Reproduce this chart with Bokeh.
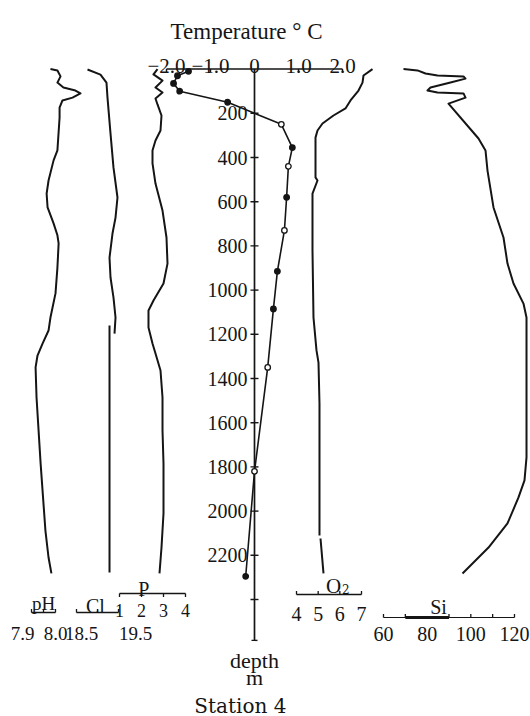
from bokeh.plotting import figure
from bokeh.models import Range1d
from bokeh.embed import file_html
from bokeh.resources import INLINE
from bokeh.core.properties import value

# ---------------- data ----------------
depth_tick_values = [200, 400, 600, 800, 1000, 1200, 1400, 1600, 1800, 2000, 2200]
depth_tick_labels = ["200", "400", "600", "800", "1000", "1200", "1400", "1600", "1800", "2000", "2200"]
depth_unlabeled_ticks = [2400]
depth_axis_end = 2585

temp_ticks = [-2.0, -1.0, 0.0, 1.0, 2.0]
temp_tick_labels = ["\u22122.0", "\u22121.0", "0", "1.0", "2.0"]

temp_depth = [10, 30, 65, 100, 150, 250, 355, 440, 580, 730, 915, 1085, 1350, 1820, 2295]
temp_value = [-1.50, -1.75, -1.84, -1.70, -0.61, 0.61, 0.86, 0.77, 0.73, 0.68, 0.52, 0.43, 0.30, 0.00, -0.20]
temp_open = [False, False, False, False, False, True, False, True, False, True, False, False, True, True, False]

ph_depth = [0, 6, 33, 61, 83, 97, 110, 129, 142, 174, 219, 368, 413, 504, 563, 626, 698, 752, 789,
            898, 1015, 1124, 1183, 1242, 1296, 1350, 1486, 1785, 2088, 2210, 2282]
ph_value = [7.979, 8.008, 8.021, 8.008, 8.033, 8.083, 8.104, 8.071, 8.029, 8.017, 8.017, 8.008, 7.992,
            7.971, 7.963, 7.967, 7.992, 8.008, 8.013, 8.008, 8.000, 7.979, 7.971, 7.946, 7.925, 7.917,
            7.921, 7.938, 7.958, 7.971, 7.983]

cl_depth = [2, 25, 61, 129, 292, 446, 581, 672, 744, 853, 943, 1034, 1124, 1197]
cl_value = [18.762, 19.071, 19.214, 19.238, 19.310, 19.381, 19.476, 19.429, 19.357, 19.286, 19.310,
            19.381, 19.429, 19.405]
cl_deep_depth = [1160, 2278]
cl_deep_value = [19.286, 19.286]

p_depth = [0, 24, 52, 83, 106, 133, 160, 210, 278, 323, 368, 427, 518, 640, 762, 880, 970, 1047, 1092,
           1169, 1242, 1287, 1364, 1486, 1635, 1785, 2011, 2165, 2282]
p_value = [2.727, 2.545, 2.955, 2.636, 2.955, 2.636, 2.727, 2.909, 2.864, 2.636, 2.500, 2.500, 2.636,
           2.955, 3.136, 3.182, 3.000, 2.545, 2.318, 2.318, 2.500, 2.636, 2.864, 2.955, 2.955, 3.000,
           3.000, 2.909, 2.818]

o2_depth = [0, 29, 61, 97, 142, 178, 210, 246, 278, 310, 490, 504, 563, 821, 1124, 1273, 1328, 1513, 2110]
o2_value = [7.507, 7.092, 7.046, 6.861, 6.492, 6.261, 5.707, 5.200, 4.969, 4.877, 4.877, 4.969, 4.738,
            4.738, 4.784, 4.923, 5.015, 5.061, 5.061]
o2_deep_depth = [2124, 2282]
o2_deep_value = [5.108, 5.246]

si_depth = [0, 6, 20, 29, 33, 43, 61, 83, 97, 106, 110, 129, 156, 314, 368, 459, 626, 762, 880, 970,
            1061, 1124, 1273, 1757, 1861, 1938, 2056, 2165, 2282]
si_value = [69.16, 75.57, 79.24, 84.74, 96.65, 97.57, 90.69, 81.53, 80.16, 84.74, 96.65, 97.57, 89.78,
            103.52, 106.73, 107.64, 110.39, 114.97, 116.80, 119.55, 124.13, 125.51, 125.51, 125.51,
            124.59, 121.84, 116.80, 108.10, 96.19]

ph_scale_ticks = [7.9, 7.95, 8.0]
ph_scale_labels = ["7.9", "8.0"]
ph_scale_label_values = [7.9, 8.0]
cl_scale_ticks = [18.5, 19.0, 19.5]
cl_scale_labels = ["18.5", "19.5"]
cl_scale_label_values = [18.5, 19.5]
p_scale_ticks = [1, 2, 3, 4]
p_scale_labels = ["1", "2", "3", "4"]
o2_scale_ticks = [4, 5, 6, 7]
o2_scale_labels = ["4", "5", "6", "7"]
si_scale_ticks = [60, 70, 90, 100, 110, 120]
si_scale_bold = [70, 90]
si_scale_label_values = [60, 80, 100, 120]
si_scale_labels = ["60", "80", "100", "120"]

# ---------------- geometry ----------------
W, H, M = 530, 716, 0
Y0, PPM = 68.6, 0.221          # image y of depth 0, pixels per metre


def dep(y_img):
    return (y_img - Y0) / PPM


def mlen(px):
    return px / PPM


def xrange_for(v0, px0, ppu):
    return Range1d(v0 + (M - px0) / ppu, v0 + (M + W - px0) / ppu)


p = figure(width=W, height=H, output_backend="svg", toolbar_location=None,
           x_range=xrange_for(0.0, 254, 44.0),
           y_range=Range1d(dep(M + H), dep(M)),
           x_axis_location=None, y_axis_location=None,
           min_border=0, outline_line_color=None, background_fill_color="white")
p.grid.visible = False
p.extra_x_ranges = {
    "ph": xrange_for(7.9, 31, 240.0),
    "cl": xrange_for(18.5, 76, 42.0),
    "p": xrange_for(1.0, 119, 22.0),
    "o2": xrange_for(4.0, 296, 21.67),
    "si": xrange_for(60.0, 383, 2.183),
}

INK = "#151515"
SERIF = value("Liberation Serif")

# ---------------- depth axis ----------------
p.segment(x0=[0], y0=[0], x1=[0], y1=[depth_axis_end], line_color=INK, line_width=1.7)
p.scatter(x=[0] * (len(depth_tick_values) + len(depth_unlabeled_ticks)),
          y=depth_tick_values + depth_unlabeled_ticks, marker="dash", size=8,
          line_color=INK, line_width=1.4)
p.scatter(x=[0], y=[depth_axis_end], marker="dash", size=6, line_color=INK, line_width=1.4)
p.text(x=[0] * len(depth_tick_values), y=depth_tick_values, text=depth_tick_labels,
       text_font=SERIF, text_font_size="20px", text_align="right", text_baseline="middle",
       x_offset=-7, text_color=INK)
p.text(x=[0], y=[dep(660)], text=["depth"], text_font=SERIF, text_font_size="22px",
       text_align="center", text_baseline="alphabetic", text_color=INK)
p.text(x=[0], y=[dep(677)], text=["m"], text_font=SERIF, text_font_size="22px",
       text_align="center", text_baseline="alphabetic", text_color=INK)
p.text(x=[-0.32], y=[dep(705)], text=["Station 4"], text_font=value("DejaVu Serif"),
       text_font_size="20px", text_align="center", text_baseline="alphabetic", text_color=INK)

# ---------------- temperature axis (top) ----------------
p.segment(x0=[temp_ticks[0]], y0=[0], x1=[temp_ticks[-1]], y1=[0], line_color=INK, line_width=1.5)
p.segment(x0=temp_ticks, y0=[0] * len(temp_ticks), x1=temp_ticks, y1=[mlen(3.5)] * len(temp_ticks),
          line_color=INK, line_width=1.4)
p.text(x=temp_ticks, y=[0] * len(temp_ticks), text=temp_tick_labels, text_font=SERIF,
       text_font_size="21px", text_align="center", text_baseline="alphabetic", y_offset=-3,
       text_color=INK)
p.text(x=[-0.18], y=[dep(31)], text=["Temperature \u00b0 C"], text_font=SERIF,
       text_font_size="23px", text_align="center", text_baseline="alphabetic", text_color=INK)

# ---------------- profiles ----------------
LW = 2.0
p.line(ph_value, ph_depth, x_range_name="ph", line_color=INK, line_width=LW, line_join="round")
p.line(cl_value, cl_depth, x_range_name="cl", line_color=INK, line_width=LW, line_join="round")
p.line(cl_deep_value, cl_deep_depth, x_range_name="cl", line_color=INK, line_width=LW)
p.line(p_value, p_depth, x_range_name="p", line_color=INK, line_width=LW, line_join="round")
p.line(o2_value, o2_depth, x_range_name="o2", line_color=INK, line_width=LW, line_join="round")
p.line(o2_deep_value, o2_deep_depth, x_range_name="o2", line_color=INK, line_width=LW)
p.line(si_value, si_depth, x_range_name="si", line_color=INK, line_width=LW, line_join="round")

p.line(temp_value, temp_depth, line_color=INK, line_width=1.6, line_join="round")
p.scatter(temp_value, temp_depth, size=5.5, marker="circle", line_color=INK, line_width=1.3,
          fill_color=["white" if o else INK for o in temp_open])


# ---------------- bottom scales ----------------
def scale_bar(rng, ticks, y_img, up, lw=1.5, tick_px=3.5):
    y = dep(y_img)
    ty = y - mlen(tick_px) if up else y + mlen(tick_px)
    p.segment(x0=[ticks[0]], y0=[y], x1=[ticks[-1]], y1=[y], x_range_name=rng,
              line_color=INK, line_width=lw)
    p.segment(x0=ticks, y0=[y] * len(ticks), x1=ticks, y1=[ty] * len(ticks), x_range_name=rng,
              line_color=INK, line_width=1.3)


def label(rng, x, y_img, txt, size, dx=0, font=SERIF):
    p.text(x=[x], y=[dep(y_img)], text=[txt], x_range_name=rng, text_font=font,
           text_font_size=size, text_align="center", text_baseline="alphabetic",
           x_offset=dx, text_color=INK)


# pH
scale_bar("ph", ph_scale_ticks, 612, up=True)
label("ph", 7.95, 603, "pH", "19px")
label("ph", ph_scale_label_values[0], 633, ph_scale_labels[0], "19px", dx=-9)
label("ph", ph_scale_label_values[1], 633, ph_scale_labels[1], "19px", dx=0)
# Cl
scale_bar("cl", cl_scale_ticks, 612, up=True)
label("cl", 18.95, 605, "Cl", "20px")
label("cl", cl_scale_label_values[0], 633, cl_scale_labels[0], "19px", dx=5)
label("cl", cl_scale_label_values[1], 633, cl_scale_labels[1], "19px", dx=17)
# P
scale_bar("p", p_scale_ticks, 593, up=False)
label("p", 2.1, 588, "P", "20px")
for v, t in zip(p_scale_ticks, p_scale_labels):
    label("p", v, 610, t, "18px")
# O2
scale_bar("o2", o2_scale_ticks, 594, up=True)
label("o2", 5.71, 585, "O", "21px")
label("o2", 6.28, 588, "2", "12px", font=value("DejaVu Serif"))
for v, t in zip(o2_scale_ticks, o2_scale_labels):
    label("o2", v, 613, t, "20px")
# Si
scale_bar("si", si_scale_ticks, 617, up=True, lw=1.2)
p.segment(x0=[si_scale_bold[0]], y0=[dep(617)], x1=[si_scale_bold[1]], y1=[dep(617)],
          x_range_name="si", line_color=INK, line_width=3)
label("si", 85.2, 606, "Si", "20px")
for v, t in zip(si_scale_label_values, si_scale_labels):
    label("si", v, 633, t, "20px")

open("out.html", "w").write(file_html(p, INLINE))
